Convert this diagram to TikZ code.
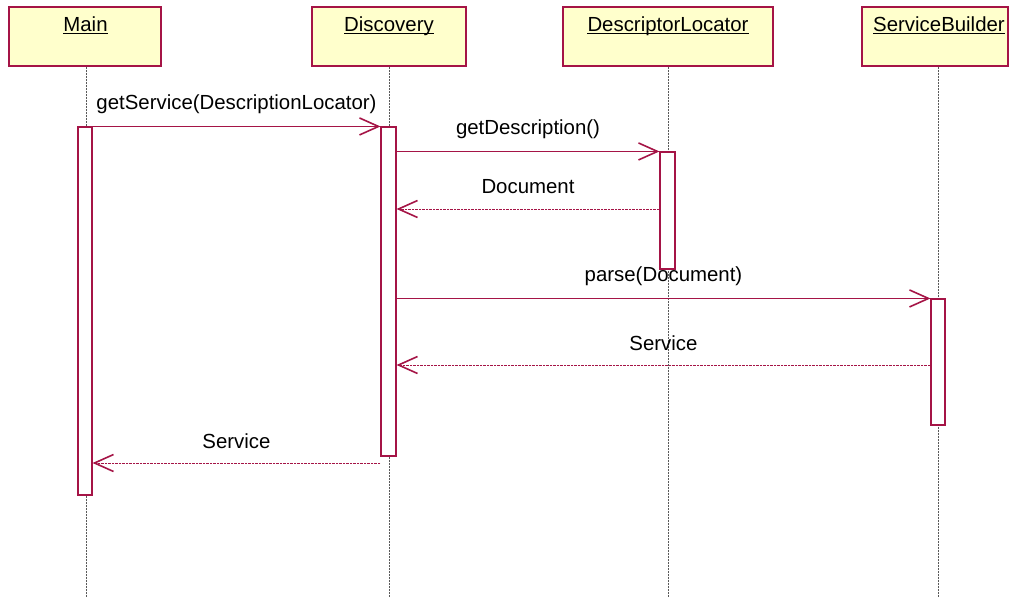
\documentclass[tikz,border=0pt]{standalone}
\usepackage{fontspec}
\setmainfont{Liberation Sans}
\usetikzlibrary{arrows.meta}
\definecolor{umlred}{RGB}{165,20,70}
\definecolor{umlfill}{RGB}{255,255,204}
\definecolor{lifegray}{RGB}{90,90,90}
\begin{document}
\begin{tikzpicture}[x=1pt,y=-1pt,
  every node/.style={font=\fontsize{20.4}{24}\selectfont},
  objbox/.style={draw=umlred,fill=umlfill,line width=1.3pt,minimum height=59pt,inner sep=0pt},
  objname/.style={anchor=base,inner sep=0pt},
  lifeline/.style={draw=lifegray,line width=0.8pt,dash pattern=on 2pt off 1pt},
  actbox/.style={draw=umlred,fill=white,line width=1.1pt,inner sep=0pt},
  callmsg/.style={draw=umlred,line width=1.2pt,-{Straight Barb[length=19pt,width=17pt,line width=1.6pt]}},
  retmsg/.style={draw=umlred,line width=0.9pt,dash pattern=on 2.5pt off 1pt,-{Straight Barb[length=19pt,width=17pt,line width=1.6pt,sep=0pt]}},
  msglabel/.style={midway,yshift=22pt,inner sep=0pt}
]
\useasboundingbox (0,0) rectangle (1009,597);
\clip (0,0) rectangle (1009,597);

% object boxes
\node[objbox,minimum width=152pt] (bMain) at (85,36.5) {};
\node[objbox,minimum width=154pt] (bDisc) at (389,36.5) {};
\node[objbox,minimum width=210pt] (bDL) at (668,36.5) {};
\node[objbox,minimum width=146pt] (bSB) at (935,36.5) {};

% object names (underlined)
\node[objname] (tMain) at (85.5,31.5) {Main};
\node[objname] (tDisc) at (389,31.5) {Discovery};
\node[objname] (tDL) at (668,31.5) {DescriptorLocator};
\node[objname] (tSB) at (939,31.5) {ServiceBuilder};
\foreach \t in {tMain,tDisc,tDL,tSB}
  \draw[line width=1.3pt] ([yshift=-2.3pt]\t.base west) -- ([yshift=-2.3pt]\t.base east);

% lifelines
\coordinate (eMain) at (86,597);
\coordinate (eDisc) at (389,597);
\coordinate (eDL) at (668,597);
\coordinate (eSB) at (938,597);
\draw[lifeline] (86,66.5) coordinate (sMain) -- (eMain);
\draw[lifeline] (389,66.5) coordinate (sDisc) -- (eDisc);
\draw[lifeline] (668,66.5) coordinate (sDL) -- (eDL);
\draw[lifeline] (938,66.5) coordinate (sSB) -- (eSB);

% activations
\node[actbox,minimum width=14pt,minimum height=368pt] (aMain) at (85,311) {};
\node[actbox,minimum width=15pt,minimum height=329pt] (aDisc) at (388.5,291.5) {};
\node[actbox,minimum width=15pt,minimum height=117pt] (aDL) at (667.5,210.5) {};
\node[actbox,minimum width=14pt,minimum height=126pt] (aSB) at (938,362) {};

% messages
\draw[callmsg] (aMain.north east) -- node[msglabel]{getService(DescriptionLocator)} (aDisc.north west);
\draw[callmsg] (aDisc.east |- aDL.north) -- node[msglabel]{getDescription()} (aDL.north west);
\coordinate (rDoc) at (aDL.west |- 0,209);
\draw[retmsg] (rDoc) -- node[msglabel]{Document} (aDisc.east |- rDoc);
\draw[callmsg] (aDisc.east |- aSB.north) -- node[msglabel]{parse(Document)} (aSB.north west);
\coordinate (rSrv) at (aSB.west |- 0,365);
\draw[retmsg] (rSrv) -- node[msglabel]{Service} (aDisc.east |- rSrv);
\coordinate (rMain) at (aDisc.west |- 0,463);
\draw[retmsg] (rMain) -- node[msglabel]{Service} (aMain.east |- rMain);
\end{tikzpicture}
\end{document}
